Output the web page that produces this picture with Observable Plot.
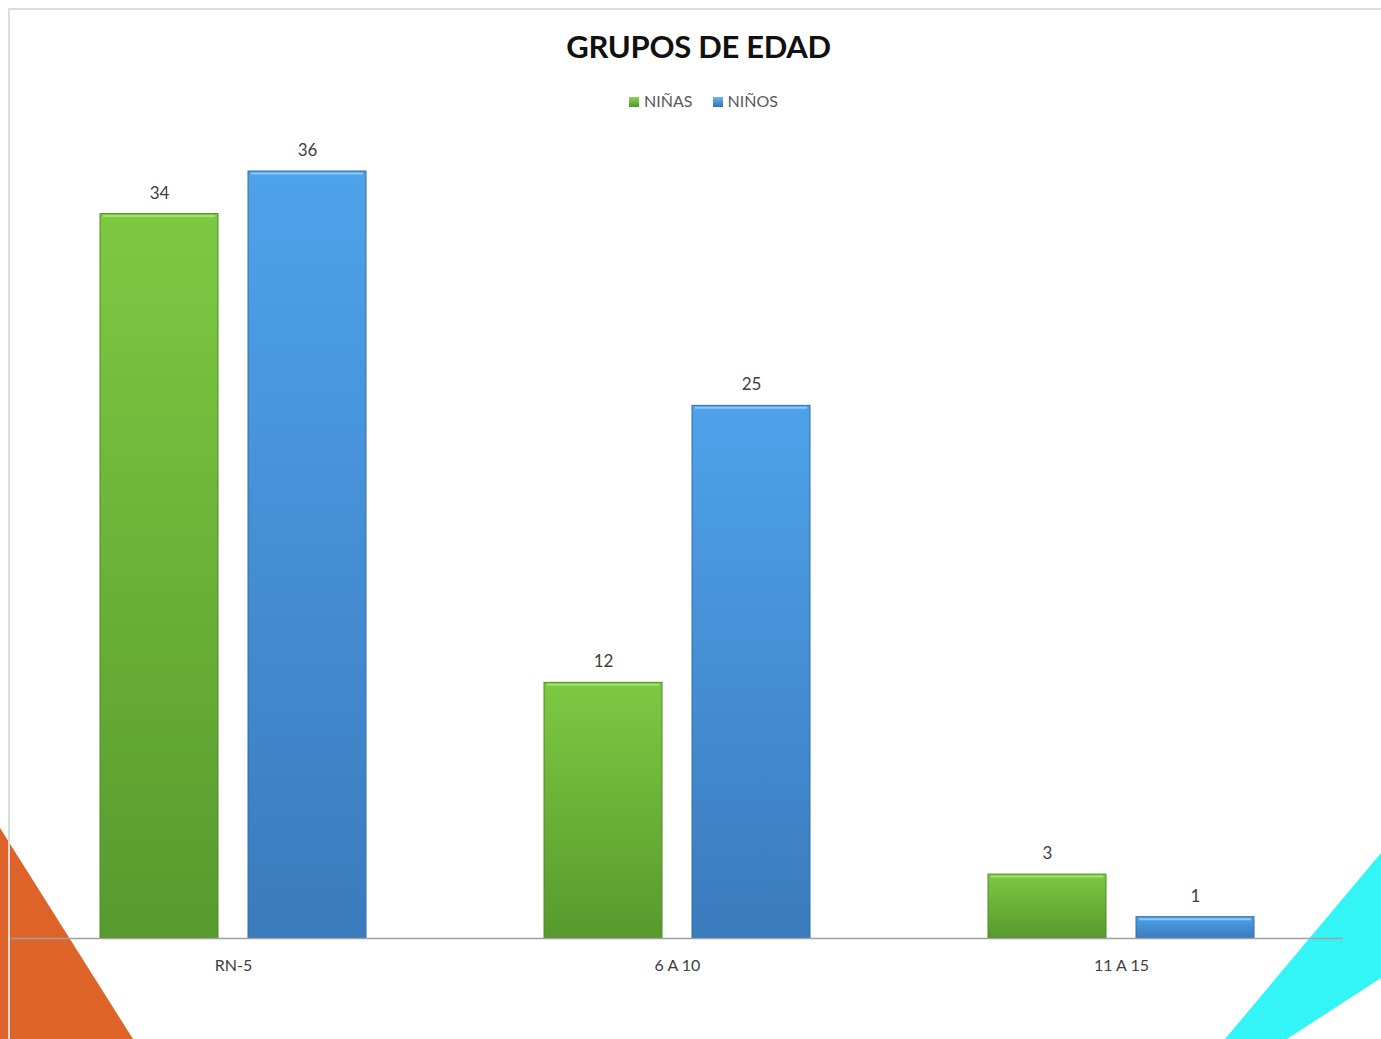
<!DOCTYPE html>
<html>
<head>
<meta charset="utf-8">
<script src="https://cdn.jsdelivr.net/npm/d3@7"></script>
<script src="https://cdn.jsdelivr.net/npm/@observablehq/plot@0.6"></script>
<style>
  html, body { margin: 0; padding: 0; background: #fff; }
  #page { position: relative; width: 1381px; height: 1039px; overflow: hidden; background: #fff; font-family: Lato, "Open Sans", sans-serif; }
  #deco { position: absolute; left: 0; top: 0; z-index: 0; }
  #frame { position: absolute; left: 8px; top: 8px; width: 1420px; height: 1100px; border: 2px solid #dcdcdc; box-sizing: border-box; z-index: 1; }
  #content { position: relative; z-index: 2; }
  #title { height: 86px; line-height: 92px; text-align: center; padding-left: 16px; font-weight: bold; font-size: 31px; color: #111; letter-spacing: -0.3px; }
  #legend { height: 30px; line-height: 30px; text-align: center; padding-left: 26px; font-size: 16px; color: #595959; }
  #legend span.item { margin: 0 10px; }
  #legend span.sw { display: inline-block; width: 10px; height: 10px; margin-right: 5px; vertical-align: 0px; }
  #chart g[aria-label^="fx-axis"] { font-size: 16px; }
  #chart g[aria-label^="fx-axis"] text { fill: #404040; }
</style>
</head>
<body>
<div id="page">
  <svg id="deco" width="1381" height="1039">
    <polygon points="0,828 133,1039 0,1039" fill="#dd6329"></polygon>
    <polygon points="1381,853 1381,978 1287,1039 1225,1039" fill="#33f5f5"></polygon>
  </svg>
  <div id="frame"></div>
  <div id="content">
    <div id="title">GRUPOS DE EDAD</div>
    <div id="legend"></div>
    <div id="chart"></div>
  </div>
</div>
<script>
const categories = ["RN-5", "6 A 10", "11 A 15"];
const seriesNames = ["NIÑAS", "NIÑOS"];
const ninas = [34, 12, 3];
const ninos = [36, 25, 1];

const data = [];
categories.forEach((c, i) => {
  data.push({group: c, series: seriesNames[0], value: ninas[i]});
  data.push({group: c, series: seriesNames[1], value: ninos[i]});
});

const fills = {"NIÑAS": "url(#gGreen)", "NIÑOS": "url(#gBlue)"};
const strokes = {"NIÑAS": "#4f8a2a", "NIÑOS": "#336da8"};
const tops = {"NIÑAS": "#a3e06c", "NIÑOS": "#8cc8f6"};

// legend
const legend = document.getElementById("legend");
legend.innerHTML = seriesNames.map(s =>
  `<span class="item"><span class="sw" style="background:${s === "NIÑAS" ? "linear-gradient(#8fd452,#4f9a2a)" : "linear-gradient(#6bb6f2,#2f72b5)"}"></span>${s}</span>`
).join("");

const chart = Plot.plot({
  width: 1381,
  height: 923,
  marginLeft: 10,
  marginRight: 38,
  marginTop: 55,
  marginBottom: 101,
  style: {background: "transparent", fontFamily: "Lato, 'Open Sans', sans-serif"},
  fx: {domain: categories, padding: 0, axis: "bottom", label: null, tickSize: 0, tickPadding: 21},
  x: {domain: seriesNames, axis: null, paddingInner: 0.2013, paddingOuter: 0.594},
  y: {domain: [0, 36], axis: null},
  marks: [
    ...seriesNames.map(s => Plot.barY(data.filter(d => d.series === s), {
      fx: "group", x: "series", y: "value",
      fill: fills[s], stroke: strokes[s], strokeWidth: 1
    })),
    ...seriesNames.map(s => Plot.tickY(data.filter(d => d.series === s), {
      fx: "group", x: "series", y: "value",
      stroke: tops[s], strokeWidth: 2, dy: 2, inset: 3
    })),
    Plot.ruleY([0], {stroke: "#a0a0a0", strokeWidth: 1.5}),
    Plot.text(data, {
      fx: "group", x: "series", y: "value", text: d => String(d.value),
      dy: -21, fontSize: 17, fill: "#404040"
    })
  ]
});

const ns = "http://www.w3.org/2000/svg";
const defs = document.createElementNS(ns, "defs");
defs.innerHTML = `
  <linearGradient id="gGreen" x1="0" y1="0" x2="0" y2="1">
    <stop offset="0" stop-color="#7dc942"/>
    <stop offset="1" stop-color="#579a2d"/>
  </linearGradient>
  <linearGradient id="gBlue" x1="0" y1="0" x2="0" y2="1">
    <stop offset="0" stop-color="#4ea2ea"/>
    <stop offset="1" stop-color="#3a7bbd"/>
  </linearGradient>`;
chart.insertBefore(defs, chart.firstChild);
document.getElementById("chart").appendChild(chart);
</script>
</body>
</html>
